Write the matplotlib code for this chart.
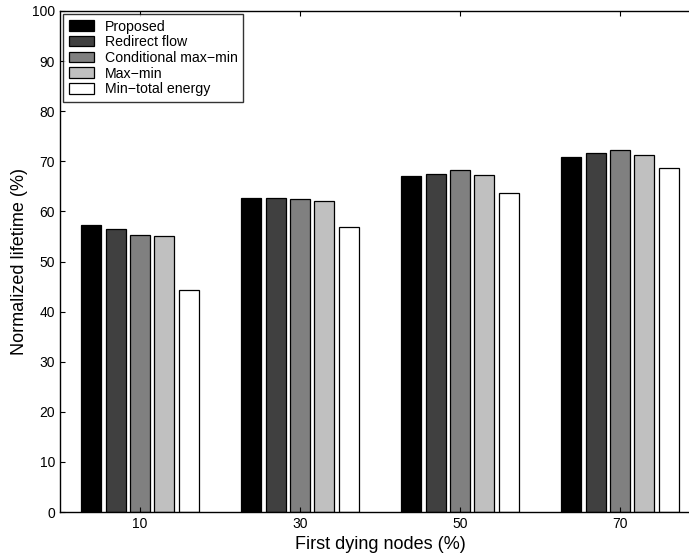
import matplotlib
matplotlib.use("Agg")
import matplotlib.pyplot as plt
import numpy as np

plt.rcParams['font.family'] = ['Liberation Sans', 'DejaVu Sans']

groups = [10, 30, 50, 70]
series = ["Proposed", "Redirect flow", "Conditional max\u2212min", "Max\u2212min", "Min\u2212total energy"]
proposed = [57.2, 62.7, 67.1, 70.8]
redirect = [56.4, 62.6, 67.5, 71.6]
cond_maxmin = [55.3, 62.5, 68.2, 72.3]
maxmin = [55.1, 62.0, 67.2, 71.3]
min_total = [44.4, 56.9, 63.7, 68.6]
values = [proposed, redirect, cond_maxmin, maxmin, min_total]
colors = ["#000000", "#404040", "#808080", "#c0c0c0", "#ffffff"]

fig = plt.figure(figsize=(6.89, 5.57), dpi=100)
# axes runs past the right edge of the figure, as in the original crop
ax = fig.add_axes([60 / 689, 45 / 557, 640 / 689, 501 / 557])

x = np.array(groups, dtype=float)
pitch = 3.04
width = 2.5
for i, (name, vals, c) in enumerate(zip(series, values, colors)):
    ax.bar(x + (i - 2) * pitch, vals, width=width, color=c, edgecolor="black",
           linewidth=0.9, label=name)

ax.set_xlim(0, 80)
ax.set_ylim(0, 100)
ax.set_xticks(groups)
ax.set_yticks(np.arange(0, 101, 10))
ax.tick_params(direction="in", top=True, right=True, labelsize=10, length=3.5)
for s in ax.spines.values():
    s.set_linewidth(1.0)
ax.set_xlabel("First dying nodes (%)", fontsize=13, labelpad=4)
ax.set_ylabel("Normalized lifetime (%)", fontsize=13, labelpad=3)

leg = ax.legend(loc="upper left", fontsize=10.2, frameon=True, fancybox=False,
                edgecolor="black", borderaxespad=0.2, handlelength=1.8,
                handleheight=0.75, labelspacing=0.12, borderpad=0.4,
                handletextpad=0.75)
leg.get_frame().set_linewidth(1.0)

fig.savefig("out.png", dpi=100)
